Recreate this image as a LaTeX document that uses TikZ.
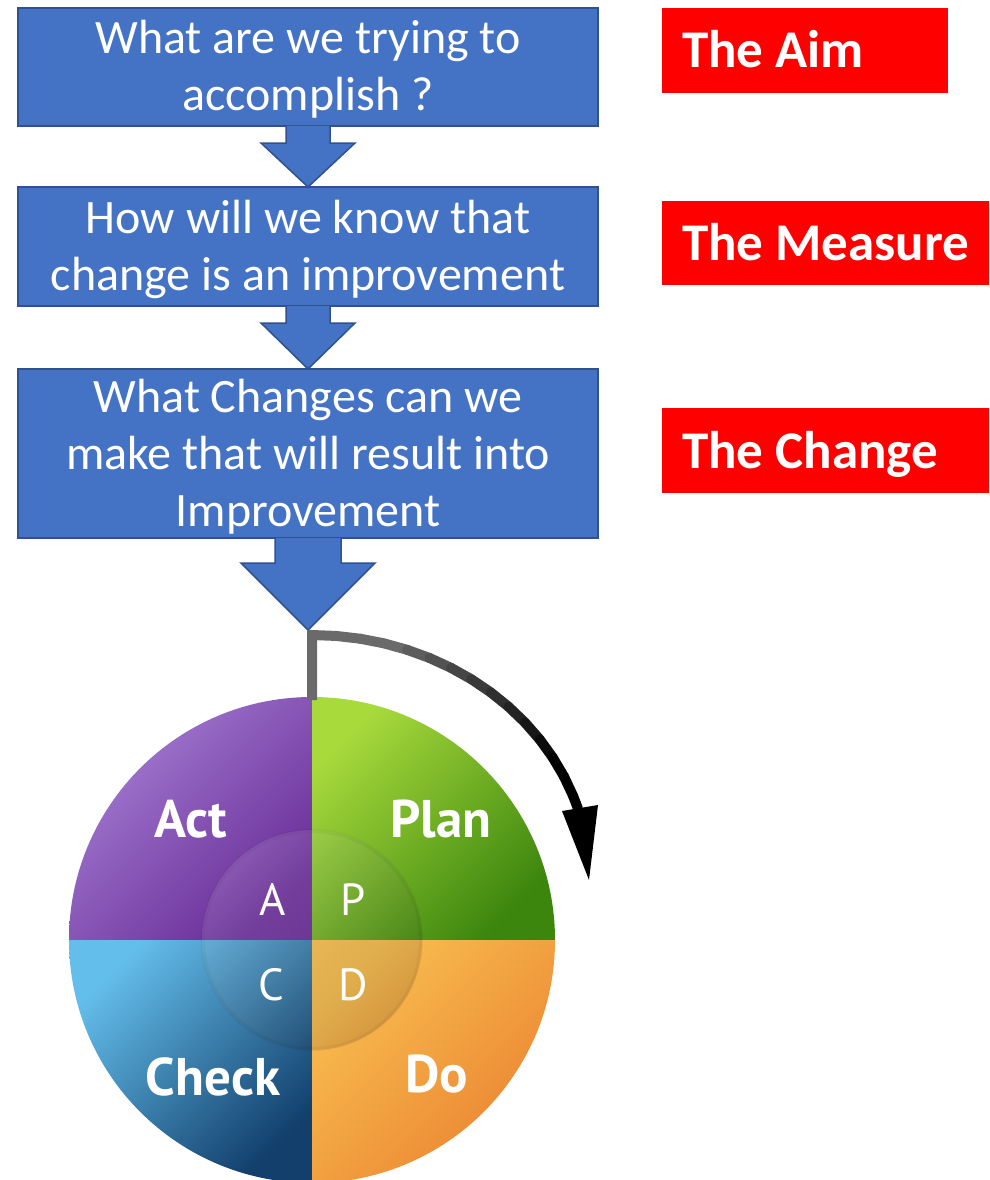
\documentclass[tikz,border=0pt]{standalone}
\usepackage{fontspec}
\setmainfont{Carlito}
\newfontfamily\pdcafont{PT Sans}
\usetikzlibrary{calc}
\definecolor{qblue}{HTML}{4472C4}
\definecolor{qedge}{HTML}{2F528F}
\definecolor{tagred}{HTML}{FF0000}
\definecolor{actA}{HTML}{A47ED3}
\definecolor{actB}{HTML}{6A2D98}
\definecolor{planA}{HTML}{A8DA3C}
\definecolor{planB}{HTML}{3C860E}
\definecolor{chkA}{HTML}{64BEEB}
\definecolor{chkB}{HTML}{123F6C}
\definecolor{doA}{HTML}{F8BE50}
\definecolor{doB}{HTML}{EB8230}
\definecolor{loopgray}{HTML}{6A6A6A}
\tikzset{
 qbox/.style={rectangle, fill=qblue, draw=qedge, line width=1.5pt, inner sep=0pt, outer sep=0pt},
 qtext/.style={text=white, inner sep=0pt, anchor=base, font=\fontsize{48}{57}\selectfont},
 barrow/.style={fill=qblue, draw=qedge, line width=1.5pt, line join=miter},
 tagbox/.style={rectangle, fill=tagred, inner sep=0pt, outer sep=0pt},
 tagtext/.style={text=white, inner sep=0pt, anchor=base west, font=\bfseries\fontsize{53}{64}\selectfont},
 bigq/.style={text=white, inner sep=0pt, anchor=base, font=\pdcafont\bfseries\fontsize{53}{64}\selectfont},
 smallq/.style={text=white, inner sep=0pt, anchor=base, font=\pdcafont\fontsize{45}{54}\selectfont},
 loopline/.style={line width=10pt}
}
\begin{document}
\begin{tikzpicture}[x=1pt,y=-1pt]
\useasboundingbox (0,0) rectangle (989,1180);
\fill[white] (0,0) rectangle (989,1180);

% question boxes
\node[qbox, minimum width=580pt, minimum height=118pt] (b1) at (308,67) {};
\node[qbox, minimum width=580pt, minimum height=119pt] (b2) at (308,246.5) {};
\node[qbox, minimum width=580pt, minimum height=169pt] (b3) at (308,453.5) {};

% block arrows
\filldraw[barrow] ($(b1.south)+(-22,0)$) -- ($(b1.south)+(-22,17)$) -- ($(b1.south)+(-47,17)$) -- (b2.north)
  -- ($(b1.south)+(47,17)$) -- ($(b1.south)+(22,17)$) -- ($(b1.south)+(22,0)$);
\filldraw[barrow] ($(b2.south)+(-22,0)$) -- ($(b2.south)+(-22,17)$) -- ($(b2.south)+(-47,17)$) -- (b3.north)
  -- ($(b2.south)+(47,17)$) -- ($(b2.south)+(22,17)$) -- ($(b2.south)+(22,0)$);
\coordinate (cyctip) at (308,630);
\filldraw[barrow] ($(b3.south)+(-33,0)$) -- ($(b3.south)+(-33,25)$) -- ($(b3.south)+(-67,25)$) -- (cyctip)
  -- ($(b3.south)+(67,25)$) -- ($(b3.south)+(33,25)$) -- ($(b3.south)+(33,0)$);

% question texts
\node[qtext] (t1) at (308,54) {\begin{tabular}[t]{@{}c@{}}What are we trying to\\accomplish ?\end{tabular}};
\node[qtext] (t2) at (308,233) {\begin{tabular}[t]{@{}c@{}}How will we know that\\change is an improvement\end{tabular}};
\node[qtext] (t3) at (308,412) {\begin{tabular}[t]{@{}c@{}}What Changes can we\\make that will result into\\Improvement\end{tabular}};

% red tags
\node[tagbox, minimum width=286pt, minimum height=85pt] (r1) at (805,50.5) {};
\node[tagtext] (r1t) at (682,68) {The Aim};
\node[tagbox, minimum width=327pt, minimum height=84pt] (r2) at (825.5,243) {};
\node[tagtext] (r2t) at (682,260) {The Measure};
\node[tagbox, minimum width=327pt, minimum height=85pt] (r3) at (825.5,450.5) {};
\node[tagtext] (r3t) at (682,468) {The Change};

% PDCA wheel
\node[circle, minimum size=486pt, inner sep=0pt, outer sep=0pt] (cyc) at (312,940) {};
\begin{scope}
 \clip (312,940) circle[radius=243];
 \shade[top color=actA, bottom color=actB, shading angle=45] (69,697) rectangle (312,940);
 \shade[top color=planA, bottom color=planB, shading angle=45] (312,697) rectangle (555,940);
 \shade[top color=chkA, bottom color=chkB, shading angle=45] (69,940) rectangle (312,1183);
 \shade[top color=doA, bottom color=doB, shading angle=45] (312,940) rectangle (555,1183);
\end{scope}
\begin{scope}
 \clip (312,940) circle[radius=110];
 \shade[top color=white, bottom color=black, shading angle=45, fill opacity=0.12] (202,830) rectangle (422,1050);
\end{scope}
\draw[black, draw opacity=0.04, line width=4pt] (312,940) circle[radius=109];

\node[bigq] (act) at (191,837) {Act};
\node[bigq] (plan) at (441,837) {Plan};
\node[bigq] (check) at (213,1095) {Check};
\node[bigq] (do) at (437,1092) {Do};
\node[smallq] (la) at (273,915) {A};
\node[smallq] (lp) at (353,915) {P};
\node[smallq] (lc) at (271,1000) {C};
\node[smallq] (ld) at (353,1000) {D};

% loop arrow
\coordinate (corner) at (312,635);
\coordinate (loopend) at (589,880);
\draw[loopgray, loopline, line join=miter] ($(cyc.north)+(0,3)$) -- (corner) -- ({312+278*cos(85)},{880-245*sin(85)});
\foreach \a in {85,80,...,20} {
 \pgfmathsetmacro\b{max(\a-5,17)}
 \pgfmathtruncatemacro\p{min(100,max(0,(\a-30)*100/45))}
 \draw[loopgray!\p!black, loopline, line cap=round] ({312+278*cos(\a)},{880-245*sin(\a)}) -- ({312+278*cos(\b)},{880-245*sin(\b)});
}
\fill[black] (562,811) -- (598,805) -- (loopend) -- cycle;
\end{tikzpicture}
\end{document}
